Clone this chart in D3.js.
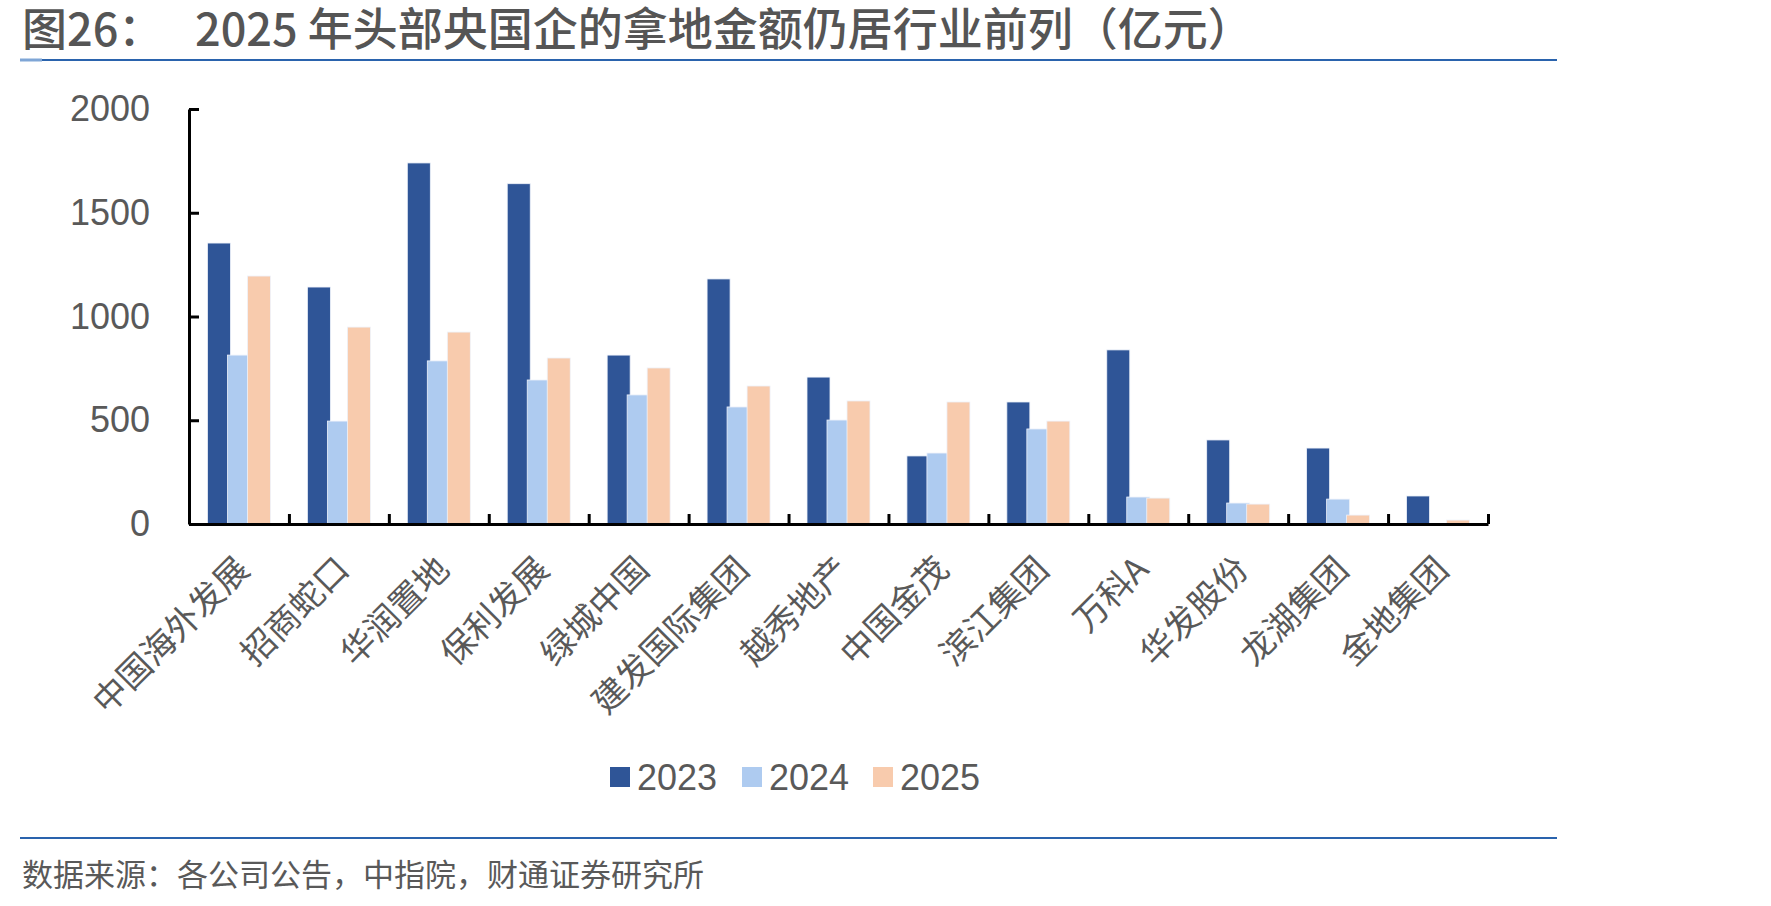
<!DOCTYPE html>
<html>
<head>
<meta charset="utf-8">
<script src="https://cdn.jsdelivr.net/npm/d3@7"></script>
<style>
  body { margin: 0; background: #fff; }
  svg { display: block; }
  text { fill: #595959; }
</style>
</head>
<body>
<svg width="1771" height="906"></svg>
<script>
// chart data (亿元)
const categories = ['中国海外发展', '招商蛇口', '华润置地', '保利发展', '绿城中国', '建发国际集团',
  '越秀地产', '中国金茂', '滨江集团', '万科A', '华发股份', '龙湖集团', '金地集团'];
const years = ['2023', '2024', '2025'];
const values2023 = [1354, 1142, 1740, 1640, 814, 1181, 708, 328, 588, 839, 405, 366, 135];
const values2024 = [814, 496, 786, 694, 622, 564, 501, 342, 458, 130, 101, 120, 0];
const values2025 = [1195, 949, 925, 800, 752, 665, 593, 588, 496, 125, 96, 43, 19];
const yTicks = [0, 500, 1000, 1500, 2000];
const colors = ['#2F5597', '#AECBF0', '#F8CBAD'];

const seriesValues = [values2023, values2024, values2025];

const svg = d3.select('svg');
const cjk = '"Noto Sans CJK SC", "Noto Sans", sans-serif';
const latin = '"Liberation Sans", Arial, sans-serif';

// title + rule
svg.append('text').attr('x', 22).attr('y', 46)
  .style('font-family', cjk).style('font-size', '45px').style('font-weight', 500).style('fill', '#555')
  .text('图26：');
svg.append('text').attr('x', 195).attr('y', 46)
  .style('font-family', cjk).style('font-size', '45px').style('font-weight', 500).style('fill', '#555')
  .text('2025 年头部央国企的拿地金额仍居行业前列（亿元）');
svg.append('line').attr('x1', 20).attr('x2', 1557).attr('y1', 60).attr('y2', 60)
  .attr('stroke', '#2A63AD').attr('stroke-width', 2);
svg.append('line').attr('x1', 20).attr('x2', 42).attr('y1', 60).attr('y2', 60)
  .attr('stroke', '#7FA6D6').attr('stroke-width', 3);

// scales
const plotLeft = 189, plotRight = 1488, plotTop = 109, plotBottom = 524;
const y = d3.scaleLinear().domain([0, 2000]).range([plotBottom, plotTop]);
const x = d3.scaleBand().domain(categories).range([plotLeft, plotRight]).padding(0);
const xb = d3.scaleLinear().domain([0, categories.length]).range([plotLeft, plotRight]);
const sub = d3.scaleBand().domain(years).range([-30, 30]);
const barW = 23;

// bars, one group per series so later series sit on top
years.forEach((yr, si) => {
  svg.append('g').selectAll('rect')
    .data(categories.map((c, i) => ({ c, v: seriesValues[si][i] })))
    .join('rect')
    .attr('x', d => x(d.c) + x.bandwidth() / 2 + sub(yr) - 1.5)
    .attr('width', barW)
    .attr('y', d => y(d.v))
    .attr('height', d => y(0) - y(d.v))
    .attr('fill', colors[si])
    .attr('stroke', d => d.v > 0 ? '#eef2fa' : 'none')
    .attr('stroke-width', 0.8);
});

// y axis
const yAxis = svg.append('g').attr('transform', `translate(${plotLeft},0)`)
  .call(d3.axisLeft(y).tickValues(yTicks).tickFormat(d3.format('d'))
    .tickSize(-10).tickSizeOuter(0).tickPadding(39));
yAxis.select('.domain').attr('stroke', '#000').attr('stroke-width', 3);
yAxis.selectAll('.tick line').attr('stroke', '#000').attr('stroke-width', 3);
yAxis.selectAll('.tick text')
  .style('font-family', latin).style('font-size', '36px').style('fill', '#595959');

// x axis (ticks between categories)
const xAxis = svg.append('g').attr('transform', `translate(0,${plotBottom})`)
  .call(d3.axisBottom(xb).tickValues(d3.range(1, categories.length + 1))
    .tickSize(-10).tickSizeOuter(0).tickFormat(''));
xAxis.select('.domain').attr('stroke', '#000').attr('stroke-width', 3);
xAxis.selectAll('.tick line').attr('stroke', '#000').attr('stroke-width', 3);

// category labels
svg.append('g').selectAll('text')
  .data(categories)
  .join('text')
  .attr('transform', d => `translate(${x(d) + x.bandwidth() / 2 + 4},563) rotate(-45)`)
  .attr('text-anchor', 'end')
  .attr('dy', '0.35em')
  .style('font-family', cjk).style('font-size', '34px').style('fill', '#595959')
  .text(d => d);

// legend
const legendX = [610, 742, 873];
const lg = svg.append('g').selectAll('g')
  .data(years)
  .join('g')
  .attr('transform', (d, i) => `translate(${legendX[i]},767)`);
lg.append('rect').attr('width', 20).attr('height', 20).attr('fill', (d, i) => colors[i]);
lg.append('text').attr('x', 27).attr('y', 10).attr('dy', '0.36em')
  .style('font-family', latin).style('font-size', '36px').style('fill', '#595959')
  .text(d => d);

// footer
svg.append('line').attr('x1', 20).attr('x2', 1557).attr('y1', 838).attr('y2', 838)
  .attr('stroke', '#2A63AD').attr('stroke-width', 2);
svg.append('text').attr('x', 22).attr('y', 886)
  .style('font-family', cjk).style('font-size', '31px').style('fill', '#595959')
  .text('数据来源：各公司公告，中指院，财通证券研究所');
</script>
</body>
</html>
